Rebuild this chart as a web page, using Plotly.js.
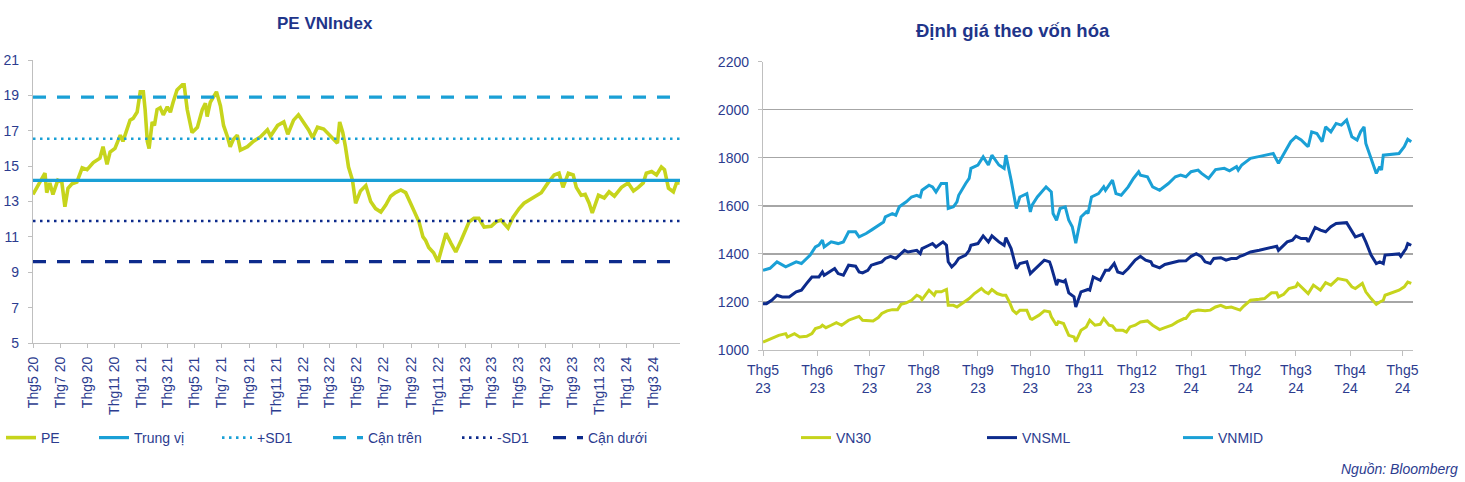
<!DOCTYPE html>
<html>
<head>
<meta charset="utf-8">
<script src="https://cdn.plot.ly/plotly-3.0.1.min.js"></script>
<style>
html,body{margin:0;padding:0;background:#ffffff;}
#chart{width:1465px;height:482px;}
</style>
</head>
<body>
<div id="chart"></div>
<script>
// ---------- Left chart: PE VNIndex ----------
const peDates = [
 '2020-05-01','2020-05-10','2020-05-24','2020-05-28','2020-06-01','2020-06-08','2020-06-15','2020-06-26','2020-07-05','2020-07-12',
 '2020-07-19','2020-07-28','2020-08-08','2020-08-20','2020-08-31','2020-09-14','2020-09-29','2020-10-06','2020-10-15','2020-10-22',
 '2020-11-02','2020-11-14','2020-11-20','2020-11-29','2020-12-06','2020-12-13','2020-12-22','2020-12-29','2021-01-05','2021-01-09',
 '2021-01-14','2021-01-18','2021-01-25','2021-01-30','2021-02-05','2021-02-12','2021-02-19','2021-02-28','2021-03-07','2021-03-13',
 '2021-03-22','2021-04-03','2021-04-07','2021-04-14','2021-04-21','2021-04-25','2021-05-07','2021-05-18','2021-05-25','2021-05-29',
 '2021-06-05','2021-06-19','2021-06-28','2021-07-05','2021-07-14','2021-07-20','2021-07-27','2021-08-05','2021-08-12','2021-08-28',
 '2021-09-10','2021-09-26','2021-10-12','2021-10-19','2021-11-04','2021-11-18','2021-11-27','2021-12-10','2021-12-21','2022-01-02',
 '2022-01-13','2022-01-22','2022-02-02','2022-02-16','2022-02-27','2022-03-10','2022-03-19','2022-03-24','2022-03-31','2022-04-06',
 '2022-04-13','2022-04-22','2022-04-29','2022-05-10','2022-05-22','2022-06-02','2022-06-13','2022-06-25','2022-07-06','2022-07-17',
 '2022-07-28','2022-08-09','2022-08-20','2022-08-31','2022-09-07','2022-09-19','2022-09-28','2022-10-04','2022-10-11','2022-10-22',
 '2022-11-01','2022-11-07','2022-11-19','2022-11-30','2022-12-11','2022-12-23','2023-01-03','2023-01-10','2023-01-21','2023-02-01',
 '2023-02-13','2023-03-01','2023-03-12','2023-03-23','2023-04-08','2023-04-19','2023-05-03','2023-05-14','2023-06-06','2023-06-22',
 '2023-07-07','2023-07-21','2023-08-01','2023-08-10','2023-08-22','2023-09-02','2023-09-09','2023-09-20','2023-09-29','2023-10-08',
 '2023-10-15','2023-10-29','2023-11-11','2023-11-22','2023-12-04','2023-12-20','2024-01-04','2024-01-16','2024-01-27','2024-02-07',
 '2024-02-14','2024-02-26','2024-03-08','2024-03-19','2024-03-26','2024-04-04','2024-04-15','2024-04-22','2024-04-29'
];
const peValues = [
 13.4,13.8,14.4,14.6,13.5,14.05,13.4,14.2,14.1,12.7,
 13.75,14.0,14.1,14.9,14.8,15.2,15.45,16.1,15.1,15.8,
 16.0,16.75,16.4,17.0,17.6,17.7,18.06,19.2,19.2,18.2,
 16.4,16.0,17.5,17.3,18.2,18.3,17.9,18.35,18.05,18.6,
 19.3,19.6,19.6,18.2,17.2,16.9,17.2,18.2,18.55,17.8,
 18.6,19.2,18.4,17.3,16.65,16.1,16.5,16.75,15.9,16.1,
 16.4,16.65,17.05,16.7,17.3,17.5,16.8,17.6,17.9,17.5,
 17.05,16.6,17.2,17.1,16.8,16.5,16.3,17.5,16.9,16.1,
 14.95,14.2,12.9,13.6,13.9,13.0,12.6,12.4,12.8,13.3,
 13.5,13.65,13.5,12.9,12.5,11.85,11.0,10.8,10.4,10.1,
 9.6,10.1,11.2,10.65,10.15,10.8,11.4,11.85,12.05,12.05,
 11.55,11.6,11.85,11.95,11.5,12.1,12.6,12.9,13.25,13.5,
 14.05,14.5,14.6,13.8,14.6,14.5,13.8,13.35,13.4,12.9,
 12.35,13.35,13.2,13.55,13.3,13.8,14.05,13.6,13.8,14.05,
 14.6,14.7,14.5,14.95,14.8,13.75,13.55,14.05,14.05
];
const refNames  = ['Trung vị','+SD1','Cận trên','-SD1','Cận dưới'];
const refValues = [14.2, 16.55, 18.9, 11.9, 9.6];
const refSpan   = ['2020-05-01','2024-04-30'];

// ---------- Right chart: Định giá theo vốn hóa ----------
const vn30Dates = [
 '2023-05-01','2023-05-06','2023-05-10','2023-05-14','2023-05-15','2023-05-19','2023-05-22','2023-05-26','2023-05-29','2023-05-31',
 '2023-06-03','2023-06-04','2023-06-06','2023-06-09','2023-06-12','2023-06-15','2023-06-19','2023-06-23','2023-06-25','2023-06-27',
 '2023-07-01','2023-07-03','2023-07-06','2023-07-08','2023-07-11','2023-07-14','2023-07-17','2023-07-19','2023-07-22','2023-07-25','2023-07-28','2023-07-30','2023-07-31',
 '2023-08-04','2023-08-07','2023-08-08','2023-08-11','2023-08-14','2023-08-15','2023-08-18','2023-08-20','2023-08-23','2023-08-27','2023-08-30',
 '2023-09-03','2023-09-05','2023-09-07','2023-09-09','2023-09-12','2023-09-15','2023-09-17','2023-09-19','2023-09-21','2023-09-23','2023-09-25','2023-09-29',
 '2023-10-01','2023-10-02','2023-10-06','2023-10-09','2023-10-12','2023-10-13','2023-10-16','2023-10-17','2023-10-20','2023-10-23','2023-10-26','2023-10-27','2023-10-30',
 '2023-11-02','2023-11-04','2023-11-07','2023-11-10','2023-11-12','2023-11-15','2023-11-17','2023-11-19','2023-11-23','2023-11-25','2023-11-27','2023-11-30',
 '2023-12-03','2023-12-07','2023-12-10','2023-12-14','2023-12-17','2023-12-21','2023-12-24','2023-12-28','2023-12-29',
 '2024-01-01','2024-01-05','2024-01-09','2024-01-12','2024-01-15','2024-01-18','2024-01-21','2024-01-24','2024-01-29','2024-01-31',
 '2024-02-04','2024-02-09','2024-02-12','2024-02-16','2024-02-19','2024-02-20','2024-02-23','2024-02-26',
 '2024-03-01','2024-03-02','2024-03-04','2024-03-08','2024-03-11','2024-03-15','2024-03-18','2024-03-21','2024-03-25','2024-03-30',
 '2024-04-02','2024-04-04','2024-04-08','2024-04-10','2024-04-13','2024-04-16','2024-04-18','2024-04-20','2024-04-21','2024-04-29',
 '2024-05-02','2024-05-04','2024-05-06'
];
const vn30Values = [
 1033,1047,1061,1068,1054,1068,1054,1057,1068,1089,
 1096,1103,1093,1103,1114,1103,1124,1135,1140,1124,
 1124,1121,1135,1152,1163,1168,1168,1190,1196,1207,1228,1221,1210,
 1249,1228,1242,1242,1252,1186,1186,1179,1193,1214,1235,
 1256,1242,1235,1252,1235,1228,1228,1200,1165,1152,1165,1165,
 1131,1128,1145,1163,1159,1138,1103,1117,1110,1061,1054,1035,1082,
 1096,1124,1103,1107,1131,1103,1100,1082,1082,1075,1096,1103,
 1117,1121,1103,1085,1093,1103,1117,1131,1131,
 1159,1166,1163,1166,1179,1186,1176,1179,1166,1182,
 1207,1211,1214,1238,1238,1221,1232,1256,
 1263,1277,1263,1235,1270,1249,1280,1270,1297,1290,
 1263,1256,1277,1242,1214,1190,1200,1207,1228,1249,
 1263,1283,1277
];

const vnsmlDates = [
 '2023-05-01','2023-05-03','2023-05-06','2023-05-09','2023-05-12','2023-05-16','2023-05-20','2023-05-23','2023-05-26','2023-05-29',
 '2023-06-02','2023-06-04','2023-06-05','2023-06-09','2023-06-11','2023-06-13','2023-06-16','2023-06-19','2023-06-23','2023-06-25','2023-06-27','2023-06-30',
 '2023-07-02','2023-07-05','2023-07-08','2023-07-10','2023-07-13','2023-07-16','2023-07-19','2023-07-21','2023-07-23','2023-07-28','2023-07-30','2023-07-31',
 '2023-08-04','2023-08-06','2023-08-08','2023-08-11','2023-08-12','2023-08-14','2023-08-15','2023-08-17','2023-08-19','2023-08-21','2023-08-25','2023-08-27','2023-08-28',
 '2023-09-01','2023-09-04','2023-09-07','2023-09-09','2023-09-13','2023-09-16','2023-09-17','2023-09-20','2023-09-23','2023-09-25','2023-09-29',
 '2023-10-01','2023-10-02','2023-10-05','2023-10-09','2023-10-12','2023-10-13','2023-10-16','2023-10-17','2023-10-20','2023-10-21','2023-10-23','2023-10-26','2023-10-27','2023-10-30',
 '2023-11-03','2023-11-04','2023-11-06','2023-11-10','2023-11-13','2023-11-15','2023-11-18','2023-11-20','2023-11-23','2023-11-26','2023-11-30',
 '2023-12-03','2023-12-06','2023-12-09','2023-12-10','2023-12-14','2023-12-17','2023-12-21','2023-12-25','2023-12-29',
 '2024-01-01','2024-01-04','2024-01-07','2024-01-09','2024-01-12','2024-01-14','2024-01-18','2024-01-21','2024-01-24','2024-01-27','2024-01-29','2024-01-31',
 '2024-02-04','2024-02-09','2024-02-13','2024-02-16','2024-02-19','2024-02-20','2024-02-23','2024-02-25','2024-02-28',
 '2024-03-01','2024-03-04','2024-03-07','2024-03-08','2024-03-10','2024-03-12','2024-03-15','2024-03-18','2024-03-21','2024-03-24','2024-03-30',
 '2024-04-02','2024-04-04','2024-04-08','2024-04-10','2024-04-13','2024-04-16','2024-04-18','2024-04-20','2024-04-21','2024-04-25','2024-04-29','2024-04-30',
 '2024-05-03','2024-05-04','2024-05-06'
];
const vnsmlValues = [
 1193,1193,1207,1228,1221,1221,1242,1249,1277,1304,
 1304,1325,1311,1332,1339,1318,1311,1353,1349,1325,1321,1332,
 1353,1360,1367,1381,1390,1381,1401,1415,1408,1415,1401,1422,
 1436,1443,1429,1443,1450,1436,1367,1346,1360,1381,1395,1415,1436,
 1443,1475,1450,1475,1450,1436,1468,1422,1339,1360,1367,
 1318,1325,1346,1374,1367,1346,1270,1290,1284,1290,1238,1221,1179,1242,
 1252,1249,1304,1290,1332,1332,1360,1325,1318,1339,1374,
 1390,1374,1367,1353,1342,1356,1364,1370,1371,
 1390,1401,1388,1367,1360,1381,1384,1374,1381,1381,1390,1395,
 1408,1415,1422,1429,1432,1415,1436,1450,1457,
 1474,1464,1464,1450,1478,1510,1499,1492,1513,1527,1530,
 1492,1471,1481,1450,1395,1360,1367,1360,1395,1398,1400,1390,
 1422,1443,1436
];

const vnmidDates = [
 '2023-05-01','2023-05-05','2023-05-09','2023-05-14','2023-05-20','2023-05-23','2023-05-28','2023-05-31',
 '2023-06-02','2023-06-04','2023-06-05','2023-06-09','2023-06-13','2023-06-16','2023-06-19','2023-06-23','2023-06-25','2023-06-29',
 '2023-07-02','2023-07-06','2023-07-09','2023-07-10','2023-07-14','2023-07-16','2023-07-18','2023-07-22','2023-07-25','2023-07-28','2023-07-30','2023-07-31',
 '2023-08-04','2023-08-06','2023-08-08','2023-08-11','2023-08-14','2023-08-15','2023-08-18','2023-08-20','2023-08-21','2023-08-25','2023-08-27','2023-08-28',
 '2023-09-01','2023-09-04','2023-09-07','2023-09-09','2023-09-13','2023-09-16','2023-09-17','2023-09-20','2023-09-23','2023-09-25','2023-09-29',
 '2023-10-01','2023-10-02','2023-10-05','2023-10-10','2023-10-13','2023-10-14','2023-10-16','2023-10-18','2023-10-21','2023-10-23','2023-10-25','2023-10-27','2023-10-30',
 '2023-11-02','2023-11-03','2023-11-05','2023-11-09','2023-11-12','2023-11-13','2023-11-17','2023-11-19','2023-11-22','2023-11-26','2023-11-29',
 '2023-12-02','2023-12-03','2023-12-07','2023-12-10','2023-12-14','2023-12-19','2023-12-23','2023-12-26','2023-12-29',
 '2024-01-01','2024-01-05','2024-01-07','2024-01-11','2024-01-13','2024-01-15','2024-01-20','2024-01-23','2024-01-27','2024-01-28','2024-01-30',
 '2024-02-04','2024-02-10','2024-02-17','2024-02-20','2024-02-24','2024-02-27',
 '2024-03-01','2024-03-04','2024-03-07','2024-03-08','2024-03-10','2024-03-13','2024-03-16','2024-03-18','2024-03-21','2024-03-24','2024-03-27','2024-03-30',
 '2024-04-02','2024-04-05','2024-04-07','2024-04-09','2024-04-10','2024-04-16','2024-04-18','2024-04-19','2024-04-20','2024-04-29',
 '2024-05-02','2024-05-04','2024-05-06'
];
const vnmidValues = [
 1332,1340,1367,1346,1367,1360,1395,1429,
 1437,1457,1429,1450,1443,1450,1492,1492,1471,1485,
 1499,1520,1533,1554,1568,1561,1596,1617,1637,1644,1637,1665,
 1686,1679,1658,1693,1693,1589,1596,1617,1644,1693,1714,1756,
 1770,1804,1770,1811,1770,1756,1811,1707,1589,1637,1651,
 1575,1603,1637,1679,1658,1568,1540,1589,1596,1540,1513,1445,1554,
 1575,1568,1637,1651,1679,1665,1707,1651,1644,1679,1714,
 1742,1728,1721,1679,1665,1693,1721,1728,1721,
 1742,1749,1735,1714,1735,1751,1756,1746,1763,1749,1770,
 1798,1807,1818,1777,1832,1867,
 1888,1874,1853,1846,1908,1901,1867,1929,1908,1943,1936,1957,
 1888,1874,1908,1929,1860,1735,1763,1749,1811,1818,
 1846,1877,1867
];

const capNames = ['VN30','VNSML','VNMID'];

// ---------- styling ----------
const W = 1465, H = 482;
const FONT = 'Liberation Sans, Arial, sans-serif';
const TXT = '#2c3c8f';
const AXIS = '#bfbfbf';
const LIME = '#c6d41c';
const SKY = '#1aa0d6';
const NAVY = '#0d2b8c';

const refStyles = [
  {color: SKY,  width: 3.2, dash: 'solid'},
  {color: SKY,  width: 2.6, dash: '2.5px,4.5px'},
  {color: SKY,  width: 3.4, dash: '13px,11px'},
  {color: NAVY, width: 2.6, dash: '2.5px,4.5px'},
  {color: NAVY, width: 3.4, dash: '13px,11px'}
];

const traces = [];
traces.push({
  type: 'scatter', mode: 'lines', name: 'PE', x: peDates, y: peValues,
  xaxis: 'x', yaxis: 'y', line: {color: LIME, width: 3.6}, legend: 'legend'
});
refNames.forEach((n, i) => {
  traces.push({
    type: 'scatter', mode: 'lines', name: n, x: refSpan, y: [refValues[i], refValues[i]],
    xaxis: 'x', yaxis: 'y', line: refStyles[i], legend: 'legend' + (i + 2)
  });
});
const capSeries = [[vn30Dates, vn30Values, LIME], [vnsmlDates, vnsmlValues, NAVY], [vnmidDates, vnmidValues, SKY]];
capSeries.forEach((s, i) => {
  traces.push({
    type: 'scatter', mode: 'lines', name: capNames[i], x: s[0], y: s[1],
    xaxis: 'x2', yaxis: 'y2', line: {color: s[2], width: 3}, legend: 'legend' + (i + 7)
  });
});

function leg(textLeftPx) {
  return {
    x: (textLeftPx - 40) / W, y: (H - 438) / H, xanchor: 'left', yanchor: 'middle',
    orientation: 'h', bgcolor: 'rgba(0,0,0,0)', borderwidth: 0,
    font: {family: FONT, size: 14, color: TXT}
  };
}

const layout = {
  width: W, height: H,
  margin: {l: 0, r: 0, t: 0, b: 0},
  paper_bgcolor: '#ffffff', plot_bgcolor: '#ffffff',
  font: {family: FONT, size: 14, color: TXT},
  hovermode: false,
  showlegend: true,
  xaxis: {
    domain: [33 / W, 680 / W], anchor: 'y', type: 'date',
    range: ['2020-05-01', '2024-04-30'], tick0: '2020-05-01', dtick: 'M2',
    tickformat: 'Thg%-m %y', tickangle: -90,
    ticks: 'outside', ticklen: 4, tickcolor: AXIS, ticklabelstandoff: 3,
    showline: true, linecolor: AXIS, linewidth: 1.2, showgrid: false, zeroline: false,
    tickfont: {family: FONT, size: 14, color: TXT}
  },
  yaxis: {
    domain: [139 / H, 422 / H], anchor: 'x',
    range: [5, 21], tick0: 5, dtick: 2,
    ticks: 'outside', ticklen: 4, tickcolor: AXIS, ticklabelstandoff: 6,
    showline: true, linecolor: AXIS, linewidth: 1.2, showgrid: false, zeroline: false,
    tickfont: {family: FONT, size: 14, color: TXT}
  },
  xaxis2: {
    domain: [763 / W, 1413 / W], anchor: 'y2', type: 'date',
    range: ['2023-05-01', '2024-05-07'], tick0: '2023-05-01', dtick: 'M1',
    tickformat: 'Thg%-m<br>%y', tickangle: 0,
    ticks: 'outside', ticklen: 5, tickcolor: AXIS, ticklabelstandoff: 2,
    showline: true, linecolor: AXIS, linewidth: 1.2, showgrid: false, zeroline: false,
    tickfont: {family: FONT, size: 14, color: TXT}
  },
  yaxis2: {
    domain: [132 / H, 420.3 / H], anchor: 'x2',
    range: [1000, 2200], tick0: 1000, dtick: 200,
    ticks: 'outside', ticklen: 4, tickcolor: AXIS, ticklabelstandoff: 6,
    showline: true, linecolor: AXIS, linewidth: 1.2,
    showgrid: true, gridcolor: '#a6a6a6', gridwidth: 1.3, zeroline: false,
    tickfont: {family: FONT, size: 14, color: TXT}
  },
  legend: leg(41), legend2: leg(134), legend3: leg(257), legend4: leg(368),
  legend5: leg(497), legend6: leg(588),
  legend7: leg(836), legend8: leg(1022), legend9: leg(1218),
  annotations: [
    {text: '<b>PE VNIndex</b>', xref: 'paper', yref: 'paper', x: 324.5 / W, y: (H - 23.5) / H,
     xanchor: 'center', yanchor: 'middle', showarrow: false, font: {family: FONT, size: 17, color: '#1f358a'}},
    {text: '<b>Định giá theo vốn hóa</b>', xref: 'paper', yref: 'paper', x: 1013 / W, y: (H - 30) / H,
     xanchor: 'center', yanchor: 'middle', showarrow: false, font: {family: FONT, size: 18.5, color: '#1f358a'}},
    {text: '<i>Nguồn: Bloomberg</i>', xref: 'paper', yref: 'paper', x: 1460 / W, y: (H - 469) / H,
     xanchor: 'right', yanchor: 'middle', showarrow: false, font: {family: FONT, size: 14, color: TXT}}
  ]
};

Plotly.newPlot('chart', traces, layout, {staticPlot: true, displayModeBar: false});
</script>
</body>
</html>
